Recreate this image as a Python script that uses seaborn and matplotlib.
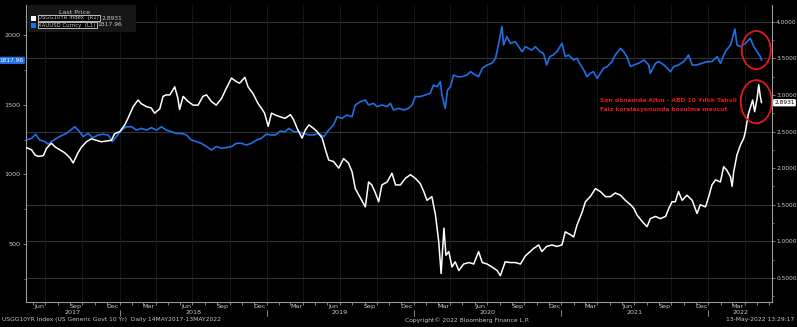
import matplotlib
matplotlib.use("Agg")
import matplotlib.pyplot as plt
import matplotlib.dates as mdates
import matplotlib.transforms as mtrans
from matplotlib import font_manager
from matplotlib.patches import Ellipse, Rectangle
import seaborn as sns
import pandas as pd

# ---------------- data ----------------
yield_dates = [
    "2017-05-15", "2017-05-28", "2017-06-05", "2017-06-13", "2017-06-26", "2017-07-04", "2017-07-16",
    "2017-07-25", "2017-08-06", "2017-08-18", "2017-08-31", "2017-09-08", "2017-09-20", "2017-09-29",
    "2017-10-11", "2017-10-23", "2017-11-05", "2017-11-17", "2017-11-30", "2017-12-12", "2017-12-20",
    "2018-01-02", "2018-01-14", "2018-01-22", "2018-02-04", "2018-02-16", "2018-02-24", "2018-03-09",
    "2018-03-21", "2018-03-29", "2018-04-11", "2018-04-19", "2018-04-27", "2018-05-06", "2018-05-18",
    "2018-05-26", "2018-05-30", "2018-06-08", "2018-06-20", "2018-07-03", "2018-07-15", "2018-07-27",
    "2018-08-05", "2018-08-17", "2018-08-29", "2018-09-11", "2018-09-23", "2018-10-06", "2018-10-18",
    "2018-10-26", "2018-11-08", "2018-11-16", "2018-11-28", "2018-12-11", "2018-12-19", "2018-12-27",
    "2019-01-05", "2019-01-13", "2019-01-25", "2019-02-04", "2019-02-16", "2019-03-01", "2019-03-09",
    "2019-03-18", "2019-03-30", "2019-04-07", "2019-04-16", "2019-04-28", "2019-05-06", "2019-05-19",
    "2019-05-27", "2019-06-04", "2019-06-16", "2019-06-29", "2019-07-11", "2019-07-23", "2019-08-01",
    "2019-08-09", "2019-08-22", "2019-09-03", "2019-09-11", "2019-09-19", "2019-09-28", "2019-10-06",
    "2019-10-14", "2019-10-27", "2019-11-08", "2019-11-17", "2019-11-29", "2019-12-11", "2019-12-24",
    "2020-01-05", "2020-01-17", "2020-01-26", "2020-02-03", "2020-02-15", "2020-02-24", "2020-03-03",
    "2020-03-09", "2020-03-16", "2020-03-21", "2020-03-28", "2020-04-05", "2020-04-13", "2020-04-22",
    "2020-05-04", "2020-05-17", "2020-05-29", "2020-06-10", "2020-06-19", "2020-07-01", "2020-07-13",
    "2020-07-26", "2020-08-03", "2020-08-15", "2020-08-28", "2020-09-09", "2020-09-22", "2020-10-04",
    "2020-10-12", "2020-10-24", "2020-11-06", "2020-11-14", "2020-11-26", "2020-12-09", "2020-12-21",
    "2021-01-03", "2021-01-11", "2021-01-24", "2021-02-01", "2021-02-09", "2021-02-22", "2021-03-02",
    "2021-03-14", "2021-03-27", "2021-04-08", "2021-04-21", "2021-05-03", "2021-05-15", "2021-05-28",
    "2021-06-09", "2021-06-22", "2021-06-30", "2021-07-08", "2021-07-21", "2021-08-02", "2021-08-10",
    "2021-08-23", "2021-09-04", "2021-09-17", "2021-09-25", "2021-10-03", "2021-10-11", "2021-10-19",
    "2021-10-28", "2021-11-09", "2021-11-22", "2021-12-04", "2021-12-12", "2021-12-25", "2022-01-02",
    "2022-01-10", "2022-01-19", "2022-01-31", "2022-02-08", "2022-02-16", "2022-02-25", "2022-03-01",
    "2022-03-05", "2022-03-13", "2022-03-22", "2022-03-30", "2022-04-03", "2022-04-10", "2022-04-15",
    "2022-04-21", "2022-04-26", "2022-05-02", "2022-05-06", "2022-05-10", "2022-05-13",
]
yield_values = [
    2.28, 2.25, 2.18, 2.16, 2.17, 2.27, 2.34,
    2.29, 2.25, 2.21, 2.14, 2.07, 2.21, 2.29,
    2.36, 2.40, 2.38, 2.36, 2.37, 2.38, 2.47,
    2.50, 2.59, 2.68, 2.84, 2.93, 2.88, 2.84,
    2.82, 2.75, 2.81, 2.98, 3.00, 3.00, 3.11,
    2.95, 2.80, 2.98, 2.91, 2.86, 2.86, 2.98,
    3.00, 2.91, 2.86, 2.95, 3.09, 3.23, 3.18,
    3.16, 3.24, 3.11, 3.02, 2.88, 2.82, 2.75,
    2.57, 2.75, 2.72, 2.70, 2.68, 2.73, 2.66,
    2.54, 2.41, 2.52, 2.59, 2.54, 2.50, 2.41,
    2.25, 2.11, 2.09, 2.00, 2.13, 2.07, 1.95,
    1.72, 1.59, 1.47, 1.81, 1.77, 1.66, 1.54,
    1.77, 1.81, 1.93, 1.77, 1.77, 1.86, 1.91,
    1.86, 1.79, 1.68, 1.56, 1.61, 1.36, 1.00,
    0.56, 1.18, 0.81, 0.86, 0.65, 0.72, 0.60,
    0.69, 0.71, 0.69, 0.86, 0.71, 0.69, 0.65,
    0.60, 0.53, 0.72, 0.71, 0.71, 0.69, 0.80,
    0.84, 0.90, 0.95, 0.86, 0.93, 0.95, 0.93,
    0.95, 1.13, 1.09, 1.06, 1.22, 1.40, 1.54,
    1.61, 1.72, 1.68, 1.61, 1.61, 1.66, 1.63,
    1.56, 1.50, 1.45, 1.36, 1.27, 1.20, 1.31,
    1.34, 1.31, 1.34, 1.45, 1.54, 1.54, 1.68,
    1.56, 1.63, 1.56, 1.38, 1.50, 1.47, 1.61,
    1.77, 1.84, 1.81, 2.02, 1.97, 1.88, 1.75,
    1.95, 2.18, 2.32, 2.41, 2.50, 2.73, 2.82,
    2.93, 2.77, 2.95, 3.14, 2.98, 2.8931,
]

gold_dates = [
    "2017-05-15", "2017-05-28", "2017-06-07", "2017-06-17", "2017-06-30", "2017-07-08", "2017-07-16",
    "2017-07-29", "2017-08-10", "2017-08-22", "2017-09-04", "2017-09-12", "2017-09-24", "2017-10-03",
    "2017-10-15", "2017-10-27", "2017-11-09", "2017-11-21", "2017-12-04", "2017-12-14", "2017-12-24",
    "2018-01-06", "2018-01-18", "2018-01-31", "2018-02-12", "2018-02-24", "2018-03-09", "2018-03-21",
    "2018-04-03", "2018-04-15", "2018-04-27", "2018-05-10", "2018-05-22", "2018-06-04", "2018-06-16",
    "2018-06-28", "2018-07-11", "2018-07-23", "2018-08-05", "2018-08-17", "2018-08-29", "2018-09-11",
    "2018-09-23", "2018-10-06", "2018-10-18", "2018-10-30", "2018-11-12", "2018-11-24", "2018-12-07",
    "2018-12-19", "2018-12-31", "2019-01-13", "2019-01-23", "2019-02-04", "2019-02-16", "2019-02-25",
    "2019-03-09", "2019-03-21", "2019-04-03", "2019-04-16", "2019-04-28", "2019-05-10", "2019-05-23",
    "2019-06-04", "2019-06-16", "2019-06-25", "2019-07-07", "2019-07-19", "2019-08-01", "2019-08-09",
    "2019-08-22", "2019-09-03", "2019-09-11", "2019-09-23", "2019-10-02", "2019-10-14", "2019-10-27",
    "2019-11-04", "2019-11-12", "2019-11-25", "2019-12-07", "2019-12-19", "2019-12-28", "2020-01-05",
    "2020-01-17", "2020-01-30", "2020-02-11", "2020-02-19", "2020-02-28", "2020-03-07", "2020-03-11",
    "2020-03-19", "2020-03-25", "2020-04-01", "2020-04-09", "2020-04-18", "2020-04-30", "2020-05-12",
    "2020-05-21", "2020-06-02", "2020-06-10", "2020-06-19", "2020-07-01", "2020-07-13", "2020-07-22",
    "2020-07-30", "2020-08-07", "2020-08-11", "2020-08-19", "2020-08-28", "2020-09-09", "2020-09-26",
    "2020-10-04", "2020-10-12", "2020-10-20", "2020-10-29", "2020-11-10", "2020-11-18", "2020-11-26",
    "2020-12-04", "2020-12-12", "2020-12-21", "2021-01-03", "2021-01-11", "2021-01-19", "2021-02-01",
    "2021-02-09", "2021-02-18", "2021-02-26", "2021-03-06", "2021-03-14", "2021-03-22", "2021-03-31",
    "2021-04-08", "2021-04-16", "2021-04-25", "2021-05-07", "2021-05-15", "2021-05-28", "2021-06-05",
    "2021-06-13", "2021-06-22", "2021-06-30", "2021-07-12", "2021-07-25", "2021-08-06", "2021-08-10",
    "2021-08-23", "2021-08-31", "2021-09-13", "2021-09-21", "2021-09-29", "2021-10-07", "2021-10-19",
    "2021-11-01", "2021-11-13", "2021-11-22", "2021-12-04", "2021-12-16", "2021-12-29", "2022-01-10",
    "2022-01-23", "2022-01-31", "2022-02-12", "2022-02-25", "2022-03-08", "2022-03-13", "2022-03-22",
    "2022-04-03", "2022-04-15", "2022-04-24", "2022-05-02", "2022-05-10", "2022-05-13",
]
gold_values = [
    1247, 1259, 1288, 1247, 1235, 1216, 1235,
    1259, 1278, 1294, 1323, 1342, 1306, 1271,
    1294, 1263, 1283, 1288, 1283, 1235, 1271,
    1318, 1342, 1342, 1318, 1330, 1318, 1335,
    1318, 1342, 1318, 1306, 1294, 1294, 1283,
    1247, 1235, 1223, 1200, 1175, 1200, 1188,
    1192, 1200, 1223, 1223, 1211, 1223, 1247,
    1259, 1288, 1283, 1283, 1311, 1306, 1330,
    1306, 1306, 1294, 1283, 1283, 1294, 1271,
    1318, 1354, 1414, 1402, 1426, 1414, 1498,
    1522, 1534, 1498, 1510, 1486, 1498, 1486,
    1510, 1462, 1474, 1462, 1474, 1498, 1558,
    1558, 1570, 1582, 1641, 1629, 1665, 1570,
    1474, 1605, 1629, 1713, 1701, 1701, 1713,
    1737, 1713, 1701, 1761, 1785, 1797, 1833,
    1940, 2060, 1928, 1988, 1940, 1952, 1880,
    1916, 1904, 1892, 1916, 1880, 1868, 1785,
    1845, 1856, 1880, 1940, 1845, 1856, 1821,
    1833, 1785, 1749, 1701, 1725, 1737, 1689,
    1725, 1761, 1773, 1809, 1856, 1904, 1880,
    1845, 1773, 1785, 1797, 1821, 1785, 1725,
    1797, 1809, 1785, 1761, 1737, 1773, 1785,
    1809, 1856, 1785, 1785, 1797, 1809, 1809,
    1845, 1797, 1880, 1928, 2043, 1928, 1916,
    1940, 1976, 1916, 1880, 1845, 1817.96,
]

series_names = ["USGG10YR Index", "XAUUSD Curncy"]
series_axes = ["(R1)", "(L1)"]
last_prices = ["2.8931", "1817.96"]
left_ticks = [500, 1000, 1500, 2000]
right_ticks = [0.5, 1.0, 1.5, 2.0, 2.5, 3.0, 3.5, 4.0]
right_grid = [0.5, 1.0, 1.5, 2.5, 3.5, 4.0]
note_lines = ["Son dönemde Altın - ABD 10 Yıllık Tahvil",
              "Faiz korelasyonunda bozulma mevcut"]
footer_left = "USGG10YR Index (US Generic Govt 10 Yr)  Daily 14MAY2017-13MAY2022"
footer_mid = "Copyright© 2022 Bloomberg Finance L.P."
footer_right = "13-May-2022 13:29:17"

# ---------------- style ----------------
sns.set_style("dark")
installed = {f.name for f in font_manager.fontManager.ttflist}
FAM = "Liberation Sans Narrow" if "Liberation Sans Narrow" in installed else "DejaVu Sans"
plt.rcParams["font.family"] = [FAM, "DejaVu Sans"]
TXT = "#c8c8c8"
GRID = "#333333"
BLUE = "#1f6fe5"
RED = "#e3161c"
FS = 4.6

df_y = pd.DataFrame({"date": pd.to_datetime(yield_dates), "value": yield_values})
df_g = pd.DataFrame({"date": pd.to_datetime(gold_dates), "value": gold_values})

fig = plt.figure(figsize=(7.97, 3.27), dpi=100, facecolor="black")
ax = fig.add_axes([26 / 797, 1 - 302 / 327, (772 - 26) / 797, (302 - 5) / 327])
ax.set_facecolor("black")
ax2 = ax.twinx()
ax2.patch.set_visible(False)

sns.lineplot(data=df_g, x="date", y="value", ax=ax, color=BLUE, linewidth=1.2, legend=False)
sns.lineplot(data=df_y, x="date", y="value", ax=ax2, color="white", linewidth=1.1, legend=False)

x0 = pd.Timestamp("2017-05-14")
x1 = pd.Timestamp("2022-06-08")
ax.set_xlim(x0, x1)
ax.set_ylim(85, 2215)
ax2.set_ylim(0.171, 4.228)

for a in (ax, ax2):
    a.set_xlabel("")
    a.set_ylabel("")
    a.grid(False)
    for s in a.spines.values():
        s.set_visible(False)

ax.spines["left"].set_visible(True)
ax.spines["left"].set_color("#9a9a9a")
ax.spines["bottom"].set_visible(True)
ax.spines["bottom"].set_color("#9a9a9a")
ax2.spines["right"].set_visible(True)
ax2.spines["right"].set_color("#9a9a9a")
for sp in ("left", "bottom"):
    ax.spines[sp].set_linewidth(0.8)
ax2.spines["right"].set_linewidth(0.8)

# gridlines
htrans = mtrans.blended_transform_factory(ax.transAxes, ax2.transData)
for v in right_grid:
    ax.plot([0, 1], [v, v], transform=htrans, color=GRID, lw=0.8, zorder=0)
qstarts = pd.date_range("2017-07-01", "2022-04-01", freq="QS-JAN")
for d in qstarts:
    ax.axvline(d, color="#3c3c3c", lw=0.6, ls=(0, (1, 1.5)), zorder=0)

# y ticks
ax.set_yticks(left_ticks)
ax.set_yticklabels([str(t) for t in left_ticks])
ax.set_yticks([250, 750, 1250, 1750], minor=True)
ax.tick_params(axis="y", colors="#9a9a9a", labelcolor=TXT, labelsize=FS, length=2.5, width=0.6,
               direction="out", pad=1.5, left=True)
ax.tick_params(axis="y", which="minor", length=1.5, width=0.5, colors="#9a9a9a")
ax2.set_yticks(right_ticks)
ax2.set_yticklabels([f"{t:.4f}" for t in right_ticks])
ax2.set_yticks([0.25, 0.75, 1.25, 1.75, 2.25, 2.75, 3.25, 3.75], minor=True)
ax2.tick_params(axis="y", colors="#9a9a9a", labelcolor=TXT, labelsize=FS - 0.4, length=2, width=0.6,
                direction="out", pad=1, right=True)
ax2.tick_params(axis="y", which="minor", length=1.5, width=0.5, colors="#9a9a9a")

# x ticks
ax.xaxis.set_major_locator(mdates.MonthLocator(bymonth=[3, 6, 9, 12], bymonthday=15))
ax.xaxis.set_major_formatter(mdates.DateFormatter("%b"))
ax.xaxis.set_minor_locator(mdates.MonthLocator())
ax.tick_params(axis="x", which="major", length=0, labelsize=FS, labelcolor=TXT, pad=1.5, bottom=True)
ax.tick_params(axis="x", which="minor", length=2, width=0.6, color="#9a9a9a", bottom=True)
ax2.tick_params(axis="x", which="both", length=0, labelbottom=False)

# year labels and separators
ytrans = mtrans.blended_transform_factory(ax.transData, ax.transAxes)
for yr in range(2017, 2023):
    a = max(pd.Timestamp(f"{yr}-01-01"), x0)
    b = min(pd.Timestamp(f"{yr + 1}-01-01"), x1)
    mid = a + (b - a) / 2
    ax.text(mid, -0.037, str(yr), transform=ytrans, ha="center", va="center", fontsize=FS, color=TXT,
            clip_on=False)
    if yr > 2017:
        ax.plot([pd.Timestamp(f"{yr}-01-01")] * 2, [-0.028, -0.047], transform=ytrans, color="#9a9a9a",
                lw=0.6, clip_on=False)

# legend box
leg = Rectangle((28 / 797, 1 - 32 / 327), 108 / 797, 27 / 327, transform=fig.transFigure,
                facecolor="#161616", edgecolor="none", zorder=5)
fig.patches.append(leg)
fig.text(75 / 797, 1 - 12 / 327, "Last Price", fontsize=FS, color=TXT, ha="center", va="center", zorder=6)
colors = ["white", BLUE]
for i, (nm, axl, lp, c) in enumerate(zip(series_names, series_axes, last_prices, colors)):
    yy = 1 - (18 + 7 * i) / 327
    fig.patches.append(Rectangle((31 / 797, yy - 2.5 / 327), 5 / 797, 5 / 327, transform=fig.transFigure,
                                 facecolor=c, edgecolor="none", zorder=6))
    fig.text(38.5 / 797, yy, f"{nm}  {axl}", fontsize=3.9, color=TXT, ha="left", va="center", zorder=6,
             bbox=dict(boxstyle="square,pad=0.12", facecolor="black", edgecolor="white", linewidth=0.5))
    fig.text(122 / 797, yy, lp, fontsize=FS - 0.3, color=TXT, ha="right", va="center", zorder=6)

# last-price tags on axes
ltrans = mtrans.blended_transform_factory(ax.transAxes, ax.transData)
ax.text(-0.003, gold_values[-1], last_prices[1], transform=ltrans, ha="right", va="center", fontsize=4.2,
        color="white", clip_on=False,
        bbox=dict(boxstyle="round,pad=0.2", facecolor=BLUE, edgecolor="none"))
rtrans = mtrans.blended_transform_factory(ax2.transAxes, ax2.transData)
ax2.text(1.003, yield_values[-1], last_prices[0], transform=rtrans, ha="left", va="center", fontsize=4.2,
         color="black", clip_on=False,
         bbox=dict(boxstyle="round,pad=0.2", facecolor="white", edgecolor="none"))

# annotation text and ellipses
ax2.text(pd.Timestamp("2021-04-06"), 2.917, note_lines[0], fontsize=4.3, color=RED, fontweight="bold",
         ha="left", va="center")
ax2.text(pd.Timestamp("2021-04-06"), 2.795, note_lines[1], fontsize=4.3, color=RED, fontweight="bold",
         ha="left", va="center")
c1 = mdates.date2num(pd.Timestamp("2022-04-30"))
ax2.add_patch(Ellipse((c1, 3.613), 72, 0.52, facecolor="none", edgecolor=RED, lw=1.3, zorder=10))
ax2.add_patch(Ellipse((c1, 2.907), 77, 0.59, facecolor="none", edgecolor=RED, lw=1.3, zorder=10))

# footer texts
fig.text(2 / 797, 1 - 320 / 327, footer_left, fontsize=4.3, color=TXT, ha="left", va="center")
fig.text(405 / 797, 1 - 320 / 327, footer_mid, fontsize=4.3, color=TXT, ha="left", va="center")
fig.text(794 / 797, 1 - 320 / 327, footer_right, fontsize=4.3, color=TXT, ha="right", va="center")

fig.savefig("out.png", dpi=100, facecolor="black")
